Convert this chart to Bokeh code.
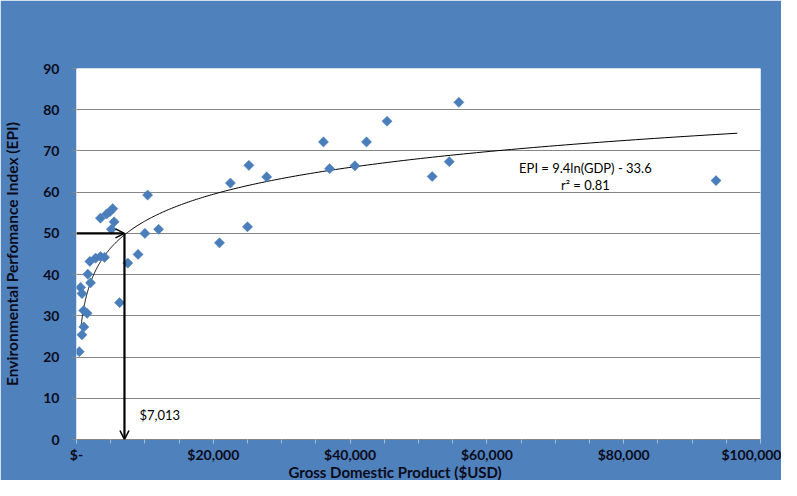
import numpy as np
from bokeh.plotting import figure
from bokeh.models import Range1d, FixedTicker, Label, Arrow, OpenHead, Title
from bokeh.embed import file_html
from bokeh.resources import INLINE

# ---- data ----
gdp_usd = [55900, 45400, 36100, 42400, 37000, 40700, 25200, 27800, 22500, 54500,
           52000, 93500, 20900, 25000, 10400, 12000, 10000, 9000, 7500, 6300,
           3500, 4400, 4900, 5300, 5500, 5100, 1950, 2800, 3500, 4100,
           1650, 2050, 600, 800, 1050, 1550, 1070, 800, 400]
epi = [81.8, 77.2, 72.2, 72.2, 65.7, 66.4, 66.5, 63.7, 62.2, 67.4,
       63.8, 62.8, 47.7, 51.6, 59.3, 51.0, 50.0, 44.9, 42.8, 33.2,
       53.7, 54.7, 55.3, 56.0, 52.8, 51.0, 43.2, 44.0, 44.4, 44.2,
       40.1, 38.0, 36.9, 35.4, 31.3, 30.6, 27.3, 25.4, 21.3]

# trend line: EPI = 9.4 ln(GDP) - 33.6
trend_slope = 9.4
trend_intercept = -33.6
trend_gdp_min = 650
trend_gdp_max = 96600
r_squared = 0.81

threshold_gdp = 7013
threshold_epi = 50

x_tick_values = [0, 20000, 40000, 60000, 80000, 100000]
x_tick_labels = ["$-", "$20,000", "$40,000", "$60,000", "$80,000", "$100,000"]
y_tick_values = [0, 10, 20, 30, 40, 50, 60, 70, 80, 90]

x_title = "Gross Domestic Product ($USD)"
y_title = "Environmental Perfomance Index (EPI)"

BLUE = "#4F81BD"
MARK = "#4A7EBB"
GRID = "#868686"
TXT = "#0B0B1A"
FONT = "Lato"

p = figure(width=781, height=480, output_backend="svg", toolbar_location=None,
           x_range=Range1d(0, 100000), y_range=Range1d(0, 90),
           min_border_left=76, min_border_right=21, min_border_top=68, min_border_bottom=40)
p.background_fill_color = "white"
p.border_fill_color = BLUE
p.outline_line_color = None

# axes
p.xaxis.ticker = FixedTicker(ticks=x_tick_values,
                             minor_ticks=list(range(0, 100001, 5000)))
p.xaxis.major_label_overrides = {v: l for v, l in zip(x_tick_values, x_tick_labels)}
p.yaxis.ticker = FixedTicker(ticks=y_tick_values)
for ax in (p.xaxis, p.yaxis):
    ax.major_label_text_font = FONT
    ax.major_label_text_font_style = "bold"
    ax.major_label_text_font_size = "14px"
    ax.major_label_text_color = TXT
p.xaxis.axis_line_color = GRID
p.xaxis.major_tick_in = 0
p.xaxis.major_tick_out = 4
p.xaxis.minor_tick_in = 0
p.xaxis.minor_tick_out = 4
p.xaxis.minor_tick_line_color = "#A9BDD8"
p.xaxis.major_tick_line_color = "#A9BDD8"
p.xaxis.major_label_standoff = 2

p.yaxis.axis_line_color = None
p.yaxis.major_tick_line_color = GRID
p.yaxis.major_tick_in = 0
p.yaxis.major_tick_out = 5
p.yaxis.minor_tick_line_color = None
p.yaxis.major_label_standoff = 12
p.yaxis.axis_label = y_title
p.yaxis.axis_label_text_font = FONT
p.yaxis.axis_label_text_font_size = "15.5px"
p.yaxis.axis_label_text_font_style = "bold"
p.yaxis.axis_label_text_color = TXT
p.yaxis.axis_label_standoff = 19

p.add_layout(Title(text=x_title, align="left", offset=212, standoff=-5,
                   vertical_align="top",
                   text_font=FONT, text_font_size="15px", text_font_style="bold",
                   text_color=TXT), "below")

p.xgrid.grid_line_color = None
p.ygrid.grid_line_color = GRID
p.ygrid.grid_line_width = 1

# trend line
tx = np.geomspace(trend_gdp_min, trend_gdp_max, 300)
ty = trend_slope * np.log(tx) + trend_intercept
p.line(tx, ty, line_color="black", line_width=1)

# points
p.scatter(gdp_usd, epi, marker="square", angle=np.pi / 4, size=7.2,
          fill_color=MARK, line_color=MARK, line_width=0.5)

# arrows
p.add_layout(Arrow(x_start=0, y_start=threshold_epi, x_end=threshold_gdp, y_end=threshold_epi,
                   line_color="black", line_width=2.2,
                   end=OpenHead(size=9, line_width=1.6, line_color="black")))
p.add_layout(Arrow(x_start=threshold_gdp, y_start=threshold_epi, x_end=threshold_gdp, y_end=0,
                   line_color="black", line_width=2.2,
                   end=OpenHead(size=9, line_width=1.6, line_color="black")))

p.add_layout(Label(x=9200, y=6.0, text="${:,}".format(threshold_gdp),
                   text_font=FONT, text_font_size="13px", text_color="black",
                   text_baseline="middle", text_align="left"))

p.add_layout(Label(x=74400, y=65.8,
                   text="EPI = {}ln(GDP) - {}".format(trend_slope, abs(trend_intercept)),
                   text_font=FONT, text_font_size="13px", text_color="black",
                   text_baseline="middle", text_align="center"))
p.add_layout(Label(x=74400, y=61.7, text="r\u00b2 = {}".format(r_squared),
                   text_font=FONT, text_font_size="13px", text_color="black",
                   text_baseline="middle", text_align="center"))

open("out.html", "w").write(file_html(p, INLINE))
